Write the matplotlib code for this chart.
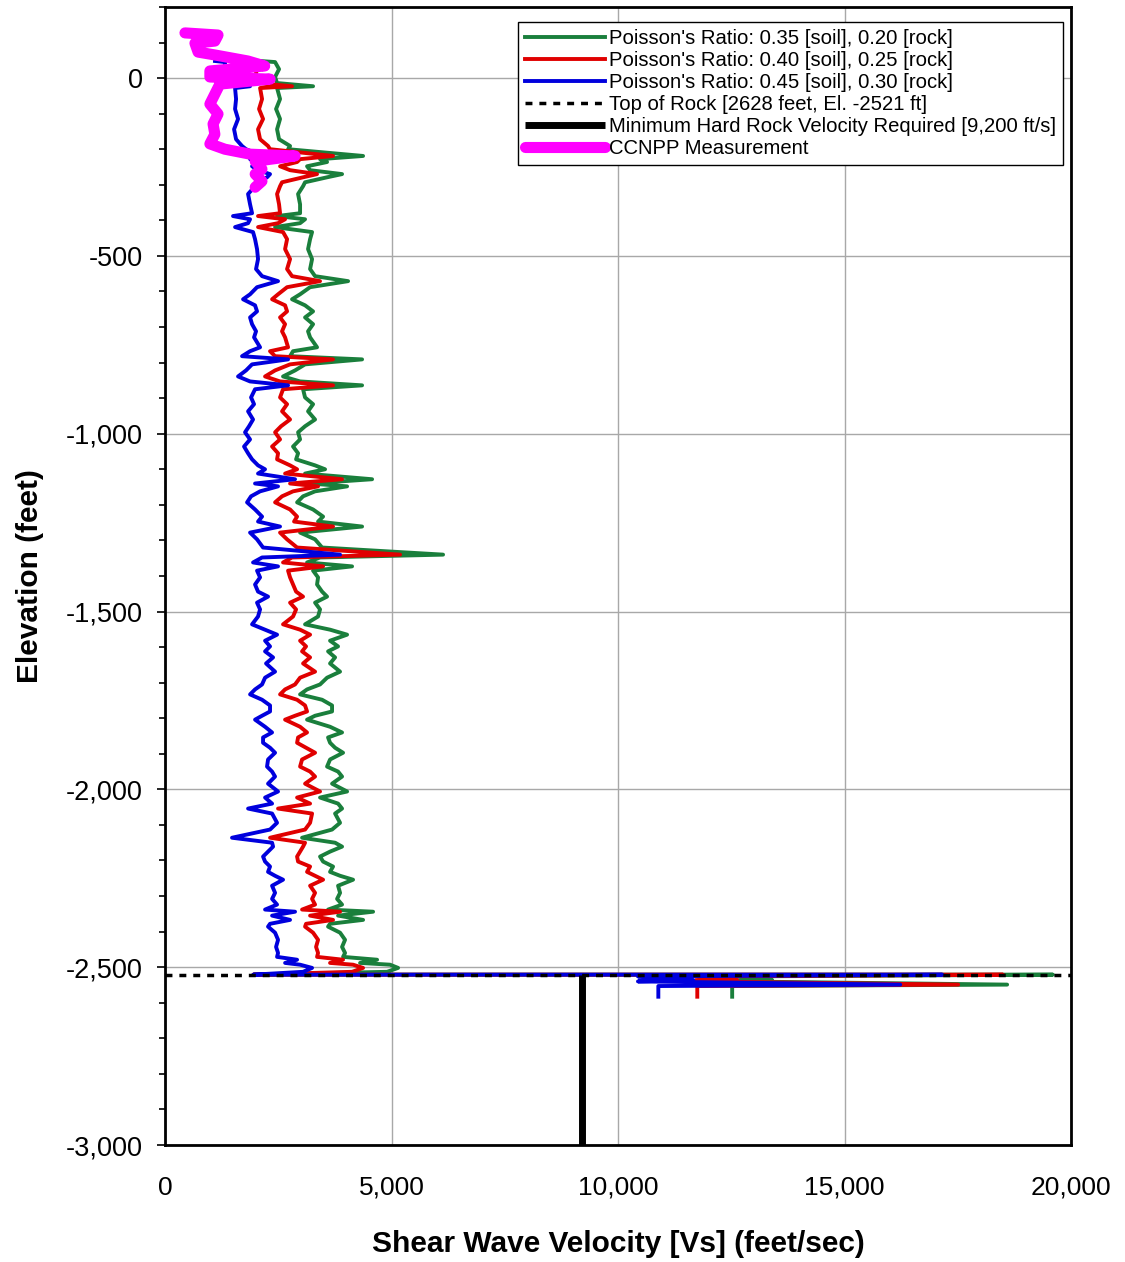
import numpy as np
import matplotlib
matplotlib.use("Agg")
import matplotlib.pyplot as plt
from matplotlib.ticker import FuncFormatter, MultipleLocator

plt.rcParams['font.family'] = ['Liberation Sans', 'DejaVu Sans']

# soil column, elevation (ft) shared by the three Poisson's ratio profiles
elev_soil = [48, 45, 25, 3, -14, -23, -28, -59, -87, -115, -144, -172, -191, -200,
             -219, -228, -236, -248, -259, -270, -279, -293, -304, -326, -355, -380,
             -388, -397, -408, -419, -433, -453, -481, -509, -537, -557, -571, -588,
             -608, -622, -639, -656, -673, -692, -712, -729, -757, -768, -782, -791,
             -805, -822, -839, -853, -864, -875, -898, -917, -937, -960, -979, -996,
             -1016, -1036, -1055, -1072, -1089, -1100, -1112, -1128, -1140, -1148,
             -1162, -1176, -1193, -1213, -1233, -1247, -1261, -1278, -1297, -1320,
             -1340, -1348, -1362, -1373, -1385, -1404, -1424, -1444, -1458, -1475,
             -1494, -1514, -1536, -1551, -1565, -1582, -1598, -1612, -1629, -1646,
             -1669, -1686, -1705, -1719, -1733, -1748, -1764, -1781, -1793, -1804,
             -1824, -1840, -1854, -1869, -1883, -1897, -1916, -1936, -1950, -1964,
             -1984, -2006, -2023, -2040, -2054, -2068, -2094, -2113, -2136, -2150,
             -2161, -2175, -2189, -2203, -2217, -2232, -2243, -2254, -2271, -2291,
             -2308, -2324, -2338, -2344, -2355, -2367, -2378, -2386, -2403, -2423,
             -2443, -2460, -2471, -2479, -2488, -2493, -2502, -2513, -2521]

vs_blue_soil = [1104, 1325, 1325, 1325, 1435, 1877, 1546, 1568, 1546, 1612, 1524, 1568, 1700, 1788,
                2142, 1877, 1987, 1921, 2053, 2318, 2252, 2009, 1987, 1833, 1877, 1921,
                1501, 1877, 1833, 1546, 1943, 1987, 2031, 2053, 2009, 2142, 2495, 2031,
                1877, 1722, 1987, 2031, 1877, 1921, 2009, 1965, 2098, 1877, 1700, 2716,
                1921, 1788, 1612, 1877, 2716, 1987, 1899, 1965, 1833, 1943, 1855, 1766,
                1877, 1744, 1833, 1921, 2053, 2208, 2053, 2870, 1987, 2495,
                2098, 1899, 1811, 1987, 2142, 2053, 2539, 1877, 2031, 2164,
                3864, 2142, 1943, 2495, 2031, 2098, 1987, 2053, 2274, 2031,
                2098, 2053, 1921, 2208, 2473, 2208, 2318, 2208, 2385, 2230,
                2429, 2208, 2142, 1987, 1877, 2142, 2318, 2318, 2142, 1987,
                2208, 2363, 2164, 2164, 2318, 2429, 2274, 2252, 2363, 2429,
                2274, 2495, 2208, 2363, 1833, 2363, 2473, 2318, 1479, 2363,
                2385, 2274, 2164, 2208, 2318, 2274, 2429, 2605, 2363, 2429,
                2363, 2473, 2208, 2870, 2363, 2760, 2318, 2274, 2429, 2495,
                2451, 2495, 2473, 2915, 2650, 2981, 3246, 3047, 1950]

vs_red_soil = [1811, 2031, 2031, 1987, 2053, 2804, 2098, 2142, 2075, 2164, 2053, 2098, 2274, 2318,
               3709, 2981, 2915, 2539, 2760, 3356, 3047, 2583, 2539, 2473, 2517, 2539,
               2053, 2650, 2495, 2053, 2605, 2694, 2650, 2760, 2694, 2804, 3422, 2694,
               2495, 2363, 2650, 2694, 2539, 2650, 2583, 2650, 2716, 2318, 2429, 3709,
               2760, 2429, 2208, 2539, 3709, 2605, 2539, 2694, 2583, 2760, 2561, 2429,
               2539, 2363, 2495, 2473, 2760, 2915, 2650, 3908, 2760, 3378,
               2826, 2583, 2429, 2760, 2915, 2848, 3709, 2539, 2694, 2915,
               5189, 2804, 2605, 3489, 2716, 2760, 2826, 2893, 3047, 2760,
               2893, 2826, 2605, 2981, 3202, 2981, 3113, 3025, 3202, 3047,
               3312, 2981, 2870, 2650, 2539, 2915, 3091, 3135, 2870, 2650,
               2981, 3135, 2937, 2915, 3113, 3312, 3025, 2981, 3202, 3312,
               3091, 3422, 2915, 3202, 2495, 3246, 3202, 3091, 2318, 3091,
               3047, 2981, 2915, 2937, 3202, 3135, 3312, 3489, 3202, 3312,
               3246, 3312, 3025, 3864, 3202, 3709, 3113, 3091, 3268, 3378,
               3334, 3378, 3356, 3930, 3643, 4151, 4372, 4129, 1950]

vs_green_soil = [2098, 2429, 2517, 2429, 2473, 3268, 2473, 2539, 2451, 2539, 2473, 2517, 2760, 2716,
                 4372, 3422, 3577, 3135, 3202, 3908, 3577, 3091, 3047, 2937, 2981, 2981,
                 2473, 3091, 2981, 2429, 3246, 3202, 3157, 3246, 3202, 3312, 4041, 3202,
                 2981, 2804, 3091, 3268, 3091, 3268, 3157, 3202, 3356, 2826, 2760, 4350,
                 3091, 2870, 2605, 2981, 4350, 3047, 3091, 3268, 3157, 3312, 3091, 2937,
                 2981, 2826, 2937, 2893, 3312, 3533, 3091, 4571, 3202, 4019,
                 3312, 3047, 2915, 3268, 3489, 3378, 4350, 2981, 3312, 3467,
                 6138, 3422, 3135, 4129, 3268, 3378, 3356, 3467, 3577, 3312,
                 3422, 3378, 3091, 3643, 4019, 3643, 3820, 3599, 3754, 3643,
                 3864, 3577, 3422, 3135, 2981, 3467, 3687, 3687, 3312, 3135,
                 3643, 3908, 3599, 3643, 3754, 3930, 3643, 3577, 3820, 3908,
                 3687, 4019, 3422, 3820, 3908, 3754, 3864, 3687, 3025, 3754,
                 3908, 3643, 3422, 3489, 3709, 3643, 3864, 4151, 3820, 3864,
                 3798, 3908, 3599, 4593, 3820, 4372, 3643, 3599, 3864, 3974,
                 3908, 3974, 3930, 4681, 4306, 4968, 5145, 4902, 1950]

# rock below the top of rock
elev_rock = [-2521, -2526, -2536, -2540, -2549, -2553, -2583]
vs_blue_rock = [17160, 10440, 11660, 10440, 16230, 10890, 10890]
vs_red_rock = [18500, 11700, 12630, 11700, 17510, 11750, 11750]
vs_green_rock = [19600, 12650, 13400, 12650, 18590, 12520, 12520]

# CCNPP measured profile
elev_meas = [127, 121, 104, 98, 73, 65, 48, 34, 20, 3, -3, -17, -45, -73, -101, -129,
             -158, -185, -200, -214, -219, -234, -256, -270, -290, -307]
vs_meas = [440, 1170, 1100, 660, 730, 1100, 1830, 2200, 990, 990, 2320, 1210, 1100, 990,
           1170, 1060, 1100, 990, 1320, 1880, 2870, 1990, 2140, 1990, 2140, 1990]

top_of_rock_el = -2521
min_rock_vs = 9200

labels = ["Poisson's Ratio: 0.35 [soil], 0.20 [rock]",
          "Poisson's Ratio: 0.40 [soil], 0.25 [rock]",
          "Poisson's Ratio: 0.45 [soil], 0.30 [rock]",
          "Top of Rock [2628 feet, El. -2521 ft]",
          "Minimum Hard Rock Velocity Required [9,200 ft/s]",
          "CCNPP Measurement"]

fig = plt.figure(figsize=(11.25, 12.62), dpi=100)
ax = fig.add_axes([0.1467, 0.0927, 0.8053, 0.9018])

ax.plot(vs_green_soil + vs_green_rock, elev_soil + elev_rock, color='#1a7f3c', lw=2.8, label=labels[0], zorder=3)
ax.plot(vs_red_soil + vs_red_rock, elev_soil + elev_rock, color='#e00000', lw=2.8, label=labels[1], zorder=4)
ax.plot(vs_blue_soil + vs_blue_rock, elev_soil + elev_rock, color='#0000dd', lw=2.8, label=labels[2], zorder=5)
ax.plot([0, 20000], [top_of_rock_el, top_of_rock_el], color='black', lw=2.5,
        linestyle=(0, (2, 2)), label=labels[3], zorder=6)
ax.plot([min_rock_vs, min_rock_vs], [top_of_rock_el, -3000], color='black', lw=5,
        solid_capstyle='butt', label=labels[4], zorder=6)
ax.plot(vs_meas, elev_meas, color='#ff00ff', lw=8, solid_capstyle='round',
        solid_joinstyle='round', label=labels[5], zorder=7)

ax.set_xlim(0, 20000)
ax.set_ylim(-3000, 200)
ax.xaxis.set_major_locator(MultipleLocator(5000))
ax.yaxis.set_major_locator(MultipleLocator(500))
ax.yaxis.set_minor_locator(MultipleLocator(100))
fmt = FuncFormatter(lambda v, p: f"{v:,.0f}")
ax.xaxis.set_major_formatter(fmt)
ax.yaxis.set_major_formatter(fmt)
ax.grid(True, which='major', color='#a8a8a8', lw=1)
ax.set_axisbelow(True)

ax.tick_params(axis='x', which='major', length=0, pad=22, labelsize=19)
ax.tick_params(axis='y', which='major', length=6, width=1.2, pad=10, labelsize=19.5)
ax.tick_params(axis='y', which='minor', length=4, width=1.2)
for s in ax.spines.values():
    s.set_linewidth(2)
    s.set_color('black')

ax.set_xlabel("Shear Wave Velocity [Vs] (feet/sec)", fontsize=21.5, fontweight='bold', labelpad=22)
ax.set_ylabel("Elevation (feet)", fontsize=21.5, fontweight='bold', labelpad=16)

leg = ax.legend(loc='upper right', bbox_to_anchor=(0.991, 0.987), fontsize=14.6,
                handlelength=3.9, labelspacing=0.15, handletextpad=0.2, borderaxespad=0,
                borderpad=0.35, fancybox=False, edgecolor='black', framealpha=1)
leg.get_frame().set_linewidth(1)

fig.savefig("out.png", dpi=100)
